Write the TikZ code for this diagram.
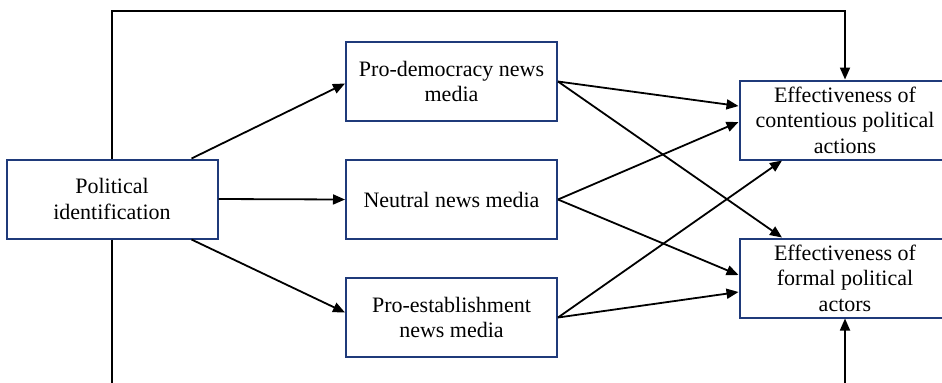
\documentclass[tikz,border=0pt]{standalone}
\usepackage{fontspec}
\setmainfont{Liberation Serif}
\usetikzlibrary{arrows.meta}
\definecolor{boxblue}{HTML}{1F3A7A}

\begin{document}
\begin{tikzpicture}[x=0.5pt,y=-0.5pt,
  box/.style={draw=boxblue,line width=1pt,fill=white,minimum width=105.5pt,minimum height=39.5pt,
    inner sep=0pt,align=center,font=\fontsize{11}{12.8}\selectfont},
  arr/.style={-{Triangle[length=6pt,width=5pt]},line width=0.9pt}]

\clip (0,0) rectangle (942,382);

% boxes
\node[box] (pol) at (112,199) {Political\\identification};
\node[box] (pd) at (451.5,81.5) {Pro-democracy news\\media};
\node[box] (neu) at (451.5,199.5) {Neutral news media};
\node[box] (pe) at (451.5,317.5) {Pro-establishment\\news media};
\node[box] (cont) at (845,120) {Effectiveness of\\contentious political\\actions};
\node[box] (form) at (845,278) {Effectiveness of\\formal political\\actors};

% political identification -> media
\draw[arr] ([xshift=-13.5pt]pol.north east) -- ([yshift=-1pt]pd.west);
\draw[arr] (pol.east) -- (neu.west);
\draw[arr] ([xshift=-13.5pt]pol.south east) -- ([yshift=2.5pt]pe.west);

% media -> effectiveness
\draw[arr] (pd.east) -- ([yshift=7pt]cont.west);
\draw[arr] (pd.east) -- ([xshift=-31.5pt]form.north);
\draw[arr] (neu.east) -- ([yshift=-1pt]cont.west);
\draw[arr] (neu.east) -- ([yshift=1.5pt]form.west);
\draw[arr] (pe.east) -- ([xshift=-31.5pt]cont.south);
\draw[arr] (pe.east) -- ([yshift=-7pt]form.west);

% direct paths
\draw[arr] (pol.north) -- (pol.north |- 0,11) -| (cont.north);
\draw[arr] (pol.south) -- (pol.south |- 0,398) -| (form.south);

\end{tikzpicture}
\end{document}
